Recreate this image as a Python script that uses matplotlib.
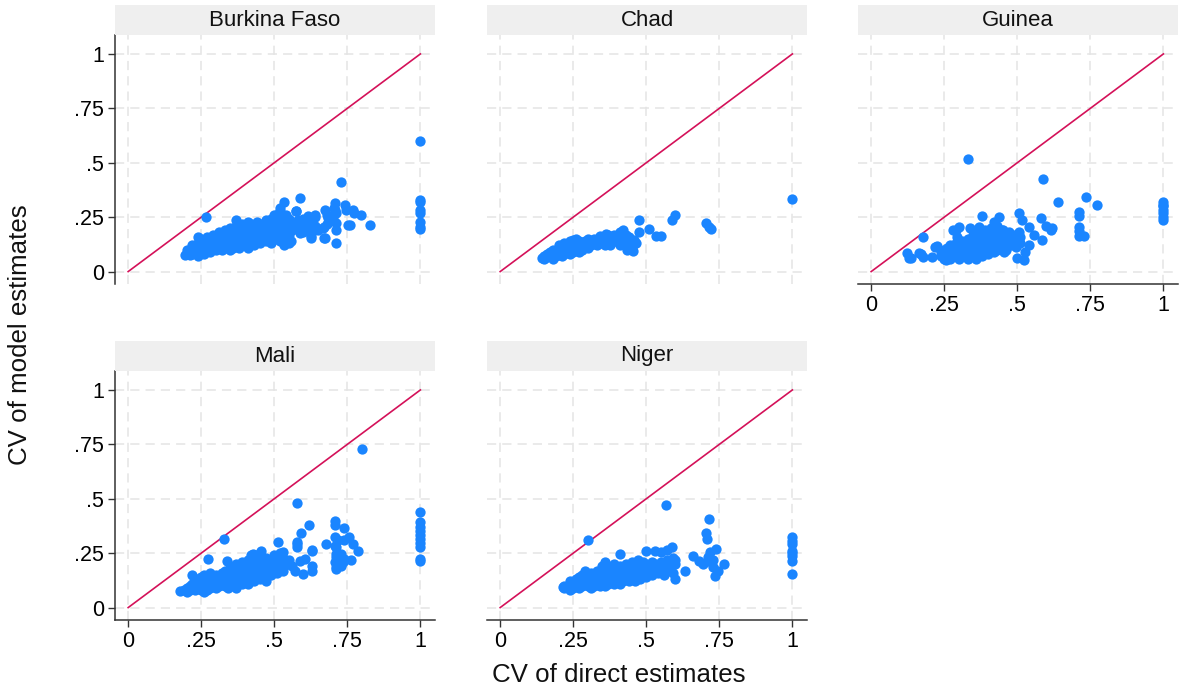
import matplotlib
matplotlib.use("Agg")
import matplotlib.pyplot as plt
from matplotlib.patches import Rectangle

plt.rcParams['font.family'] = ['Liberation Sans', 'DejaVu Sans']

countries = ["Burkina Faso", "Chad", "Guinea", "Mali", "Niger"]
tick_values = [0, 0.25, 0.5, 0.75, 1]
tick_labels = ["0", ".25", ".5", ".75", "1"]
x_title = "CV of direct estimates"
y_title = "CV of model estimates"

burkina_faso = [
    (0.194, 0.077), (0.24, 0.158), (0.268, 0.25), (0.37, 0.238), (0.587, 0.337), (0.532, 0.319), (0.727, 0.41),
    (1.0, 0.598), (1.0, 0.33), (1.0, 0.322), (1.0, 0.281), (1.0, 0.268), (1.0, 0.23), (1.0, 0.207), (1.0, 0.195),
    (0.826, 0.212), (0.797, 0.261), (0.774, 0.268), (0.746, 0.285), (0.706, 0.294), (0.712, 0.268), (0.672, 0.281),
    (0.683, 0.245), (0.666, 0.199), (0.672, 0.153), (0.71, 0.133), (0.71, 0.192), (0.71, 0.222), (0.752, 0.215),
    (0.626, 0.192), (0.626, 0.153), (0.615, 0.256), (0.638, 0.261), (0.575, 0.279), (0.581, 0.238), (0.587, 0.176),
    (0.552, 0.130), (0.532, 0.123), (0.507, 0.261), (0.518, 0.291), (0.473, 0.238), (0.709, 0.315), (0.741, 0.307),
    (0.769, 0.284), (0.758, 0.216), (0.709, 0.285), (0.669, 0.205), (0.669, 0.154), (0.576, 0.277), (0.627, 0.177),
    (0.627, 0.162), (0.557, 0.139), (0.534, 0.131),
    (0.20, 0.08), (0.20, 0.10), (0.21, 0.09), (0.21, 0.075), (0.22, 0.10), (0.22, 0.08), (0.22, 0.12),
    (0.23, 0.09), (0.23, 0.11), (0.24, 0.07), (0.24, 0.10), (0.24, 0.13), (0.25, 0.09), (0.25, 0.12), (0.25, 0.15),
    (0.26, 0.08), (0.26, 0.11), (0.26, 0.14), (0.27, 0.10), (0.27, 0.13), (0.27, 0.16), (0.28, 0.09), (0.28, 0.12),
    (0.28, 0.15), (0.29, 0.11), (0.29, 0.14), (0.29, 0.17), (0.30, 0.10), (0.30, 0.13), (0.30, 0.16), (0.31, 0.12),
    (0.31, 0.15), (0.31, 0.18), (0.32, 0.10), (0.32, 0.14), (0.32, 0.17), (0.33, 0.11), (0.33, 0.13), (0.33, 0.16),
    (0.33, 0.19), (0.34, 0.12), (0.34, 0.15), (0.34, 0.18), (0.35, 0.10), (0.35, 0.14), (0.35, 0.17), (0.35, 0.20),
    (0.36, 0.11), (0.36, 0.13), (0.36, 0.16), (0.36, 0.19), (0.37, 0.12), (0.37, 0.15), (0.37, 0.18), (0.37, 0.21),
    (0.38, 0.11), (0.38, 0.14), (0.38, 0.17), (0.38, 0.20), (0.39, 0.13), (0.39, 0.16), (0.39, 0.19), (0.39, 0.22),
    (0.40, 0.12), (0.40, 0.15), (0.40, 0.18), (0.40, 0.21), (0.41, 0.11), (0.41, 0.14), (0.41, 0.17), (0.41, 0.20),
    (0.41, 0.23), (0.42, 0.13), (0.42, 0.16), (0.42, 0.19), (0.42, 0.22), (0.43, 0.12), (0.43, 0.15), (0.43, 0.18),
    (0.43, 0.21), (0.44, 0.14), (0.44, 0.17), (0.44, 0.20), (0.44, 0.23), (0.45, 0.13), (0.45, 0.16), (0.45, 0.19),
    (0.45, 0.22), (0.46, 0.15), (0.46, 0.18), (0.46, 0.21), (0.47, 0.14), (0.47, 0.17), (0.47, 0.20), (0.47, 0.23),
    (0.48, 0.16), (0.48, 0.19), (0.48, 0.22), (0.49, 0.13), (0.49, 0.18), (0.49, 0.21), (0.49, 0.24), (0.50, 0.17),
    (0.50, 0.20), (0.50, 0.23), (0.50, 0.26), (0.51, 0.15), (0.51, 0.19), (0.51, 0.22), (0.52, 0.14), (0.52, 0.18),
    (0.52, 0.21), (0.52, 0.25), (0.52, 0.28), (0.53, 0.16), (0.53, 0.20), (0.53, 0.23), (0.54, 0.19), (0.54, 0.22),
    (0.54, 0.26), (0.55, 0.17), (0.55, 0.21), (0.55, 0.24), (0.56, 0.19), (0.56, 0.23), (0.58, 0.20), (0.58, 0.22),
    (0.60, 0.18), (0.60, 0.21), (0.60, 0.24), (0.62, 0.20), (0.62, 0.23), (0.64, 0.21), (0.64, 0.25), (0.65, 0.19),
    (0.68, 0.22), (0.68, 0.26), (0.70, 0.25),
]

chad = [
    (1.0, 0.333), (0.597, 0.261), (0.589, 0.235), (0.705, 0.223), (0.715, 0.204), (0.72, 0.196), (0.474, 0.235),
    (0.509, 0.196), (0.476, 0.18), (0.535, 0.165), (0.552, 0.165), (0.421, 0.193), (0.457, 0.147), (0.466, 0.132),
    (0.455, 0.093), (0.435, 0.101), (0.362, 0.173), (0.34, 0.165), (0.25, 0.147), (0.142, 0.063),
    (0.15, 0.06), (0.15, 0.07), (0.16, 0.065), (0.16, 0.08), (0.17, 0.07), (0.17, 0.09), (0.18, 0.06), (0.18, 0.08),
    (0.18, 0.10), (0.19, 0.07), (0.19, 0.09), (0.20, 0.08), (0.20, 0.10), (0.20, 0.12), (0.21, 0.07), (0.21, 0.09),
    (0.21, 0.11), (0.22, 0.08), (0.22, 0.10), (0.22, 0.13), (0.23, 0.09), (0.23, 0.11), (0.24, 0.08), (0.24, 0.10),
    (0.24, 0.12), (0.24, 0.14), (0.25, 0.09), (0.25, 0.11), (0.25, 0.13), (0.26, 0.10), (0.26, 0.12), (0.26, 0.15),
    (0.27, 0.09), (0.27, 0.11), (0.27, 0.14), (0.28, 0.10), (0.28, 0.13), (0.29, 0.12), (0.29, 0.14), (0.30, 0.11),
    (0.30, 0.13), (0.30, 0.15), (0.31, 0.12), (0.31, 0.14), (0.32, 0.13), (0.32, 0.15), (0.33, 0.12), (0.33, 0.14),
    (0.34, 0.13), (0.34, 0.15), (0.35, 0.14), (0.35, 0.16), (0.36, 0.12), (0.36, 0.15), (0.37, 0.14), (0.37, 0.17),
    (0.38, 0.13), (0.38, 0.16), (0.39, 0.15), (0.39, 0.17), (0.40, 0.14), (0.40, 0.16), (0.41, 0.15), (0.41, 0.18),
    (0.42, 0.14), (0.43, 0.17), (0.44, 0.13), (0.44, 0.16), (0.45, 0.11), (0.375, 0.124), (0.41, 0.124),
]

guinea = [
    (0.332, 0.517), (0.587, 0.425), (0.735, 0.345), (0.638, 0.318), (0.772, 0.307),
    (1.0, 0.322), (1.0, 0.307), (1.0, 0.30), (1.0, 0.284), (1.0, 0.268), (1.0, 0.25), (1.0, 0.238),
    (0.71, 0.272), (0.71, 0.254), (0.71, 0.205), (0.71, 0.185), (0.73, 0.165), (0.71, 0.162),
    (0.581, 0.245), (0.614, 0.192), (0.586, 0.146), (0.557, 0.169), (0.54, 0.207), (0.515, 0.235), (0.505, 0.268),
    (0.505, 0.184), (0.50, 0.061), (0.523, 0.054), (0.528, 0.092), (0.54, 0.123), (0.494, 0.115), (0.437, 0.253),
    (0.38, 0.256), (0.337, 0.202), (0.289, 0.192), (0.295, 0.161), (0.177, 0.158), (0.22, 0.115), (0.209, 0.069),
    (0.163, 0.084), (0.123, 0.084), (0.129, 0.061), (0.255, 0.054), (0.369, 0.207), (0.42, 0.23), (0.449, 0.192),
    (0.454, 0.092), (0.409, 0.107), (0.136, 0.063), (0.17, 0.083), (0.176, 0.067), (0.227, 0.116), (0.279, 0.193),
    (0.301, 0.205), (0.60, 0.21), (0.62, 0.20),
    (0.24, 0.07), (0.24, 0.09), (0.25, 0.06), (0.25, 0.10), (0.26, 0.08), (0.26, 0.11), (0.27, 0.06), (0.27, 0.09),
    (0.27, 0.12), (0.28, 0.07), (0.28, 0.10), (0.29, 0.08), (0.29, 0.11), (0.29, 0.13), (0.30, 0.06), (0.30, 0.09),
    (0.30, 0.12), (0.31, 0.07), (0.31, 0.10), (0.31, 0.14), (0.32, 0.08), (0.32, 0.11), (0.32, 0.13), (0.33, 0.06),
    (0.33, 0.09), (0.33, 0.12), (0.33, 0.15), (0.34, 0.07), (0.34, 0.10), (0.34, 0.14), (0.35, 0.08), (0.35, 0.11),
    (0.35, 0.13), (0.35, 0.17), (0.36, 0.06), (0.36, 0.09), (0.36, 0.12), (0.36, 0.15), (0.37, 0.08), (0.37, 0.10),
    (0.37, 0.14), (0.37, 0.18), (0.38, 0.07), (0.38, 0.11), (0.38, 0.13), (0.38, 0.16), (0.39, 0.09), (0.39, 0.12),
    (0.39, 0.15), (0.39, 0.19), (0.40, 0.08), (0.40, 0.10), (0.40, 0.14), (0.40, 0.17), (0.41, 0.11), (0.41, 0.13),
    (0.41, 0.16), (0.41, 0.20), (0.42, 0.09), (0.42, 0.12), (0.42, 0.15), (0.42, 0.18), (0.43, 0.10), (0.43, 0.14),
    (0.43, 0.17), (0.43, 0.21), (0.44, 0.11), (0.44, 0.13), (0.44, 0.16), (0.45, 0.12), (0.45, 0.15), (0.45, 0.19),
    (0.46, 0.10), (0.46, 0.14), (0.46, 0.17), (0.47, 0.13), (0.47, 0.16), (0.47, 0.18), (0.48, 0.12), (0.48, 0.15),
    (0.49, 0.14), (0.49, 0.17), (0.51, 0.13), (0.51, 0.16),
]

mali = [
    (0.80, 0.727), (0.579, 0.481), (0.329, 0.317), (0.618, 0.378), (0.59, 0.344), (0.513, 0.301), (0.579, 0.29),
    (0.579, 0.28), (0.63, 0.265), (0.678, 0.293), (0.707, 0.40), (0.707, 0.38), (0.737, 0.367), (0.786, 0.259),
    (0.763, 0.218),
    (1.0, 0.438), (1.0, 0.392), (1.0, 0.369), (1.0, 0.354), (1.0, 0.335), (1.0, 0.315), (1.0, 0.295), (1.0, 0.277),
    (1.0, 0.223), (1.0, 0.212),
    (0.274, 0.224), (0.339, 0.212), (0.177, 0.075),
    (0.707, 0.324), (0.718, 0.309), (0.74, 0.309), (0.757, 0.324), (0.768, 0.293), (0.707, 0.285), (0.712, 0.247),
    (0.729, 0.247), (0.712, 0.232), (0.707, 0.209), (0.718, 0.201), (0.712, 0.186), (0.735, 0.209), (0.74, 0.224),
    (0.71, 0.177), (0.729, 0.192), (0.71, 0.277), (0.72, 0.231),
    (0.57, 0.169), (0.598, 0.154), (0.629, 0.169), (0.629, 0.192), (0.604, 0.223), (0.587, 0.215), (0.629, 0.262),
    (0.577, 0.30), (0.547, 0.20), (0.53, 0.254), (0.507, 0.208), (0.473, 0.123), (0.456, 0.262), (0.427, 0.246),
    (0.19, 0.08), (0.20, 0.09), (0.20, 0.07), (0.21, 0.08), (0.21, 0.10), (0.22, 0.09), (0.22, 0.11), (0.22, 0.15),
    (0.23, 0.08), (0.23, 0.10), (0.23, 0.12), (0.24, 0.09), (0.24, 0.11), (0.24, 0.13), (0.25, 0.08), (0.25, 0.10),
    (0.25, 0.12), (0.25, 0.14), (0.26, 0.07), (0.26, 0.09), (0.26, 0.11), (0.26, 0.13), (0.26, 0.15), (0.27, 0.08),
    (0.27, 0.10), (0.27, 0.12), (0.27, 0.14), (0.28, 0.09), (0.28, 0.11), (0.28, 0.13), (0.28, 0.16), (0.29, 0.10),
    (0.29, 0.12), (0.29, 0.14), (0.30, 0.09), (0.30, 0.11), (0.30, 0.13), (0.30, 0.15), (0.31, 0.10), (0.31, 0.12),
    (0.31, 0.14), (0.32, 0.11), (0.32, 0.13), (0.32, 0.16), (0.33, 0.10), (0.33, 0.12), (0.33, 0.14), (0.33, 0.17),
    (0.34, 0.09), (0.34, 0.11), (0.34, 0.13), (0.34, 0.15), (0.35, 0.10), (0.35, 0.12), (0.35, 0.16), (0.35, 0.18),
    (0.36, 0.11), (0.36, 0.14), (0.36, 0.17), (0.37, 0.09), (0.37, 0.13), (0.37, 0.15), (0.37, 0.20), (0.38, 0.12),
    (0.38, 0.14), (0.38, 0.18), (0.39, 0.11), (0.39, 0.13), (0.39, 0.16), (0.39, 0.21), (0.40, 0.12), (0.40, 0.15),
    (0.40, 0.19), (0.41, 0.11), (0.41, 0.14), (0.41, 0.17), (0.41, 0.22), (0.42, 0.13), (0.42, 0.16), (0.42, 0.20),
    (0.42, 0.24), (0.43, 0.12), (0.43, 0.15), (0.43, 0.18), (0.43, 0.21), (0.44, 0.14), (0.44, 0.17), (0.44, 0.23),
    (0.45, 0.13), (0.45, 0.16), (0.45, 0.19), (0.45, 0.25), (0.46, 0.15), (0.46, 0.18), (0.46, 0.21), (0.47, 0.14),
    (0.47, 0.17), (0.47, 0.20), (0.47, 0.23), (0.48, 0.16), (0.48, 0.19), (0.48, 0.22), (0.49, 0.15), (0.49, 0.18),
    (0.49, 0.21), (0.50, 0.17), (0.50, 0.20), (0.50, 0.24), (0.51, 0.16), (0.51, 0.19), (0.51, 0.22), (0.52, 0.18),
    (0.52, 0.21), (0.52, 0.25), (0.53, 0.17), (0.53, 0.23), (0.55, 0.20), (0.55, 0.22), (0.56, 0.19),
]

niger = [
    (0.569, 0.47), (0.299, 0.309), (0.714, 0.406), (0.705, 0.343), (0.709, 0.317), (0.739, 0.27),
    (1.0, 0.323), (1.0, 0.308), (1.0, 0.29), (1.0, 0.262), (1.0, 0.25), (1.0, 0.238), (1.0, 0.215), (1.0, 0.154),
    (0.717, 0.255), (0.711, 0.232), (0.694, 0.20), (0.728, 0.186), (0.734, 0.143), (0.765, 0.20), (0.745, 0.17),
    (0.72, 0.21), (0.73, 0.22),
    (0.66, 0.235), (0.68, 0.215), (0.631, 0.17), (0.589, 0.278), (0.50, 0.26), (0.53, 0.26), (0.55, 0.255),
    (0.57, 0.265), (0.41, 0.244), (0.597, 0.132), (0.216, 0.094), (0.358, 0.209),
    (0.22, 0.09), (0.22, 0.10), (0.23, 0.095), (0.24, 0.10), (0.24, 0.12), (0.24, 0.08), (0.25, 0.09), (0.25, 0.11),
    (0.26, 0.10), (0.26, 0.13), (0.27, 0.09), (0.27, 0.11), (0.27, 0.14), (0.28, 0.10), (0.28, 0.12), (0.28, 0.15),
    (0.29, 0.11), (0.29, 0.13), (0.29, 0.17), (0.30, 0.10), (0.30, 0.12), (0.30, 0.14), (0.31, 0.09), (0.31, 0.11),
    (0.31, 0.13), (0.31, 0.16), (0.32, 0.10), (0.32, 0.12), (0.32, 0.15), (0.33, 0.11), (0.33, 0.14), (0.33, 0.17),
    (0.34, 0.10), (0.34, 0.12), (0.34, 0.15), (0.35, 0.11), (0.35, 0.13), (0.35, 0.16), (0.35, 0.19), (0.36, 0.10),
    (0.36, 0.12), (0.36, 0.14), (0.36, 0.17), (0.37, 0.11), (0.37, 0.13), (0.37, 0.16), (0.38, 0.12), (0.38, 0.15),
    (0.38, 0.18), (0.39, 0.11), (0.39, 0.14), (0.39, 0.17), (0.39, 0.20), (0.40, 0.12), (0.40, 0.15), (0.40, 0.18),
    (0.41, 0.11), (0.41, 0.13), (0.41, 0.16), (0.41, 0.19), (0.42, 0.12), (0.42, 0.14), (0.42, 0.17), (0.43, 0.13),
    (0.43, 0.15), (0.43, 0.18), (0.43, 0.20), (0.44, 0.12), (0.44, 0.14), (0.44, 0.17), (0.45, 0.13), (0.45, 0.16),
    (0.45, 0.19), (0.45, 0.21), (0.46, 0.12), (0.46, 0.15), (0.46, 0.18), (0.47, 0.14), (0.47, 0.17), (0.47, 0.20),
    (0.47, 0.22), (0.48, 0.13), (0.48, 0.16), (0.48, 0.19), (0.49, 0.15), (0.49, 0.18), (0.49, 0.21), (0.50, 0.14),
    (0.50, 0.17), (0.50, 0.20), (0.51, 0.16), (0.51, 0.19), (0.52, 0.15), (0.52, 0.18), (0.52, 0.21), (0.53, 0.17),
    (0.53, 0.20), (0.54, 0.16), (0.54, 0.19), (0.55, 0.18), (0.55, 0.21), (0.56, 0.15), (0.56, 0.19), (0.57, 0.17),
    (0.57, 0.22), (0.58, 0.19), (0.58, 0.21), (0.59, 0.16), (0.59, 0.23), (0.60, 0.20), (0.60, 0.22),
]

panel_data = [burkina_faso, chad, guinea, mali, niger]

W, H = 1179, 687
fig = plt.figure(figsize=(W / 100, H / 100), dpi=100)

col_left = [115, 487, 858]
panel_w = 320
row_top = [35, 371]
panel_h = 249
header_h = 30

marker_color = "#1a85ff"
line_color = "#d41159"
grid_color = "#e4e4e4"

for i, (name, pts) in enumerate(zip(countries, panel_data)):
    r, c = divmod(i, 3)
    left = col_left[c]
    top = row_top[r]
    ax = fig.add_axes([left / W, (H - top - panel_h) / H, panel_w / W, panel_h / H])
    ax.set_xlim(-0.045, 1.05)
    ax.set_ylim(-0.057, 1.087)
    ax.set_xticks(tick_values)
    ax.set_yticks(tick_values)
    ax.grid(True, color=grid_color, linestyle=(0, (6, 4)), linewidth=1.1)
    ax.set_axisbelow(True)
    for s in ax.spines.values():
        s.set_visible(False)
    show_y = (c == 0)
    show_x = (r == 1) or (i == 2)
    ax.spines['left'].set_visible(show_y)
    ax.spines['bottom'].set_visible(show_x)
    ax.spines['left'].set_color('#333333')
    ax.spines['bottom'].set_color('#333333')
    ax.spines['left'].set_linewidth(1.1)
    ax.spines['bottom'].set_linewidth(1.1)
    ax.tick_params(axis='y', length=5 if show_y else 0, width=1.0, color='#333333',
                   labelsize=15.5, labelleft=show_y, pad=3)
    ax.tick_params(axis='x', length=5 if show_x else 0, width=1.0, color='#333333',
                   labelsize=15.5, labelbottom=show_x, pad=3)
    ax.set_xticklabels(tick_labels)
    ax.set_yticklabels(tick_labels)
    ax.plot([0, 1], [0, 1], color=line_color, linewidth=1.2, zorder=2)
    xs = [p[0] for p in pts]
    ys = [p[1] for p in pts]
    ax.scatter(xs, ys, s=55, color=marker_color, linewidths=0, zorder=3)
    # header strip
    fig.patches.append(Rectangle((left / W, (H - top) / H), panel_w / W, header_h / H,
                                 transform=fig.transFigure, facecolor="#efefef",
                                 edgecolor='none', zorder=0))
    fig.text((left + panel_w / 2) / W, (H - top + header_h / 2) / H, name,
             ha='center', va='center', fontsize=16, color='#111111')

fig.text(619 / W, (H - 675) / H, x_title, ha='center', va='center', fontsize=18.6, color='#111111')
fig.text(20 / W, (H - 335) / H, y_title, ha='center', va='center', rotation=90,
         fontsize=18.6, color='#111111')

fig.savefig("out.png", dpi=100)
